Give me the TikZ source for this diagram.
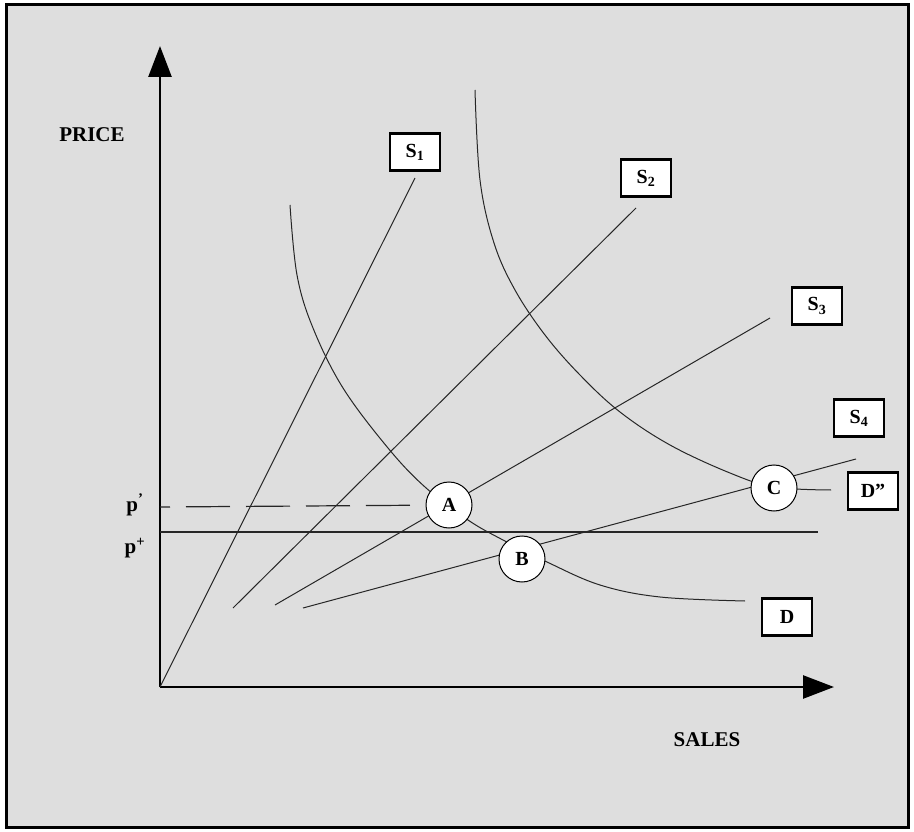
\documentclass[tikz,border=0pt]{standalone}
\usepackage{fontspec}
\setmainfont{Liberation Serif}
\usepackage{tikz}
\usetikzlibrary{arrows.meta}
\definecolor{bggray}{HTML}{DEDEDE}
\tikzstyle{axis}=[line width=2.6pt, -{Triangle[length=31pt,width=23pt]}]
\tikzstyle{thin}=[line width=1pt, black!85]
\tikzstyle{tag}=[draw, fill=white, line width=2.6pt, minimum width=50pt, minimum height=37pt, inner sep=0pt, font=\fontsize{20}{21}\selectfont\bfseries]
\tikzstyle{eqpt}=[circle, draw, fill=white, line width=1pt, minimum size=46pt, inner sep=0pt, font=\fontsize{20}{21}\selectfont\bfseries]
\tikzstyle{axlab}=[font=\fontsize{21}{22}\selectfont\bfseries]

\begin{document}
\begin{tikzpicture}[x=1pt, y=-1pt]
      \useasboundingbox (0,0) rectangle (914,832);
      \draw[line width=3pt, fill=bggray] (6,5) rectangle (908,827);
      % axes
      \coordinate (O) at (160,687);
      \draw[axis] (O) -- (160,46);
      \draw[axis] (O) -- (834,687);
      \node[axlab] (price) at (92,135) {PRICE};
      \node[axlab] (sales) at (707,740) {SALES};
      % demand curves
      \draw[thin] plot[smooth, tension=0.6] coordinates {(290,205) (297,275) (313,328) (343,388) (388,448) (425,487) (468,520) (503,540) (547,562) (600,585) (660,597) (745,601)};
      \draw[thin] plot[smooth, tension=0.6] coordinates {(475,90) (480,180) (494,243) (515,290) (545,335) (580,375) (620,412) (670,445) (730,473) (774,487) (831,490)};
      % supply lines
      \coordinate (s1e) at (415,178);
      \coordinate (s2a) at (233,608);
      \coordinate (s2e) at (636,208);
      \coordinate (s3a) at (275,605);
      \coordinate (s3e) at (770,318);
      \coordinate (s4a) at (303,608);
      \coordinate (s4e) at (856,459);
      \draw[thin] (O) -- (s1e);
      \draw[thin] (s2a) -- (s2e);
      \draw[thin] (s3a) -- (s3e);
      \draw[thin] (s4a) -- (s4e);
      % prices
      \coordinate (pp) at (160,507);
      \coordinate (ps) at (160,532);
      \coordinate (pse) at (818,532);
      \draw[line width=1.4pt, black!85] (ps) -- (pse);
      \node[eqpt] (A) at (449,505) {A};
      \node[eqpt] (B) at (522,559) {B};
      \node[eqpt] (C) at (774,488) {C};
      \draw[line width=1.2pt, black!85, dash pattern=on 44pt off 16pt, dash phase=-26pt] (pp) -- (A);
      \node[axlab] (plab1) at (135,505) {p\textsuperscript{'}};
      \node[axlab] (plab2) at (135,548) {p\textsuperscript{+}};
      % labels
      \node[tag] (S1) at (415,152) {S\textsubscript{1}};
      \node[tag] (S2) at (646,178) {S\textsubscript{2}};
      \node[tag] (S3) at (817,306) {S\textsubscript{3}};
      \node[tag] (S4) at (859,418) {S\textsubscript{4}};
      \node[tag] (D) at (787,617) {D};
      \node[tag] (D2) at (873,491) {D''};
\end{tikzpicture}
\end{document}
